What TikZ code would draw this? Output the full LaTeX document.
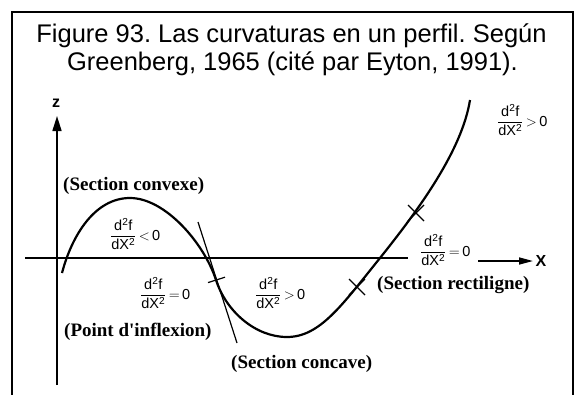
\documentclass[tikz,border=0pt]{standalone}
\usepackage{fontspec}
\setmainfont{Liberation Serif}
\setsansfont{Liberation Sans}
\usetikzlibrary{arrows.meta}
\newcommand{\dfr}[1]{$\displaystyle\frac{\mathsf{d^2f}}{\mathsf{dX^2}}\,{#1}\,\mathsf{0}$}
\begin{document}
\frenchspacing
\begin{tikzpicture}[x=1pt,y=-1pt,
  ttl/.style={font=\fontsize{25.5}{28}\selectfont\sffamily\frenchspacing, inner sep=0pt, anchor=base},
  lbl/.style={font=\fontsize{19}{21}\selectfont\bfseries, inner sep=0pt, anchor=base west},
  frm/.style={font=\fontsize{14.5}{16}\selectfont\sffamily, inner sep=0pt, anchor=west},
  axl/.style={font=\fontsize{16}{18}\selectfont\sffamily\bfseries, inner sep=0pt},
  axis/.style={line width=1.6pt},
  crv/.style={line width=2.2pt},
  thin/.style={line width=1.2pt},
  frame/.style={line width=2.5pt}]
\useasboundingbox (0,0) rectangle (576,394);
% frame
\coordinate (fbl) at (12,396);
\coordinate (ftl) at (12,12);
\coordinate (ftr) at (573,12);
\coordinate (fbr) at (573,396);
\draw[frame] (fbl) -- (ftl) -- (ftr) -- (fbr);
% title
\node[ttl] (t1) at (291.5,42) {Figure 93. Las curvaturas en un perfil. Según};
\node[ttl] (t2) at (292.5,70) {Greenberg, 1965 (cité par Eyton, 1991).};
% axes
\coordinate (zb) at (57,385);
\coordinate (zt) at (57,116);
\draw[axis,-{Triangle[length=15pt,width=9pt]}] (zb) -- (zt);
\node[axl] (zl) at (56,103) {z};
\coordinate (xa) at (25,258);
\coordinate (xb) at (408,258);
\draw[axis] (xa) -- (xb);
\coordinate (xc) at (478,261);
\coordinate (xd) at (533,261);
\draw[axis,-{Triangle[length=14pt,width=7pt]}] (xc) -- (xd);
\node[axl] (xl) at (541,261) {X};
% curve
\coordinate (p0) at (62,273);
\coordinate (pk) at (130,198);
\coordinate (pi) at (216,280);
\coordinate (pm) at (287,337);
\coordinate (pa) at (380,258);
\coordinate (pe) at (470,100);
\draw[crv] (p0) .. controls (72,235) and (95,198) .. (pk)
  .. controls (165,198) and (204,243) .. (pi)
  .. controls (226,311) and (255,337) .. (pm)
  .. controls (320,337) and (342,305) .. (pa)
  .. controls (420,208) and (462,150) .. (pe);
% tangent at inflexion and tick
\coordinate (ta) at (198,222);
\coordinate (tb) at (237,343);
\draw[thin] (ta) -- (tb);
\coordinate (ka) at (208,282.6);
\coordinate (kb) at (225,277.2);
\draw[thin] (ka) -- (kb);
% crosses
\coordinate (c1) at (357,287);
\coordinate (c2) at (416,213);
\foreach \c in {c1,c2}{
  \draw[thin] ([shift={(-8,-8)}]\c) -- ([shift={(8,8)}]\c);
  \draw[thin] ([shift={(-8,8)}]\c) -- ([shift={(8,-8)}]\c);
}
% labels
\node[lbl] (l1) at (63,190) {(Section convexe)};
\node[lbl] (l2) at (64,336) {(Point d\textquotesingle inflexion)};
\node[lbl] (l3) at (231,368) {(Section concave)};
\node[lbl] (l4) at (377,289) {(Section rectiligne)};
% formulas
\node[frm] (f1) at (110,234) {\dfr{<}};
\node[frm] (f2) at (140,293) {\dfr{=}};
\node[frm] (f3) at (255,293) {\dfr{>}};
\node[frm] (f4) at (420,250) {\dfr{=}};
\node[frm] (f5) at (497,120) {\dfr{>}};
\end{tikzpicture}
\end{document}
